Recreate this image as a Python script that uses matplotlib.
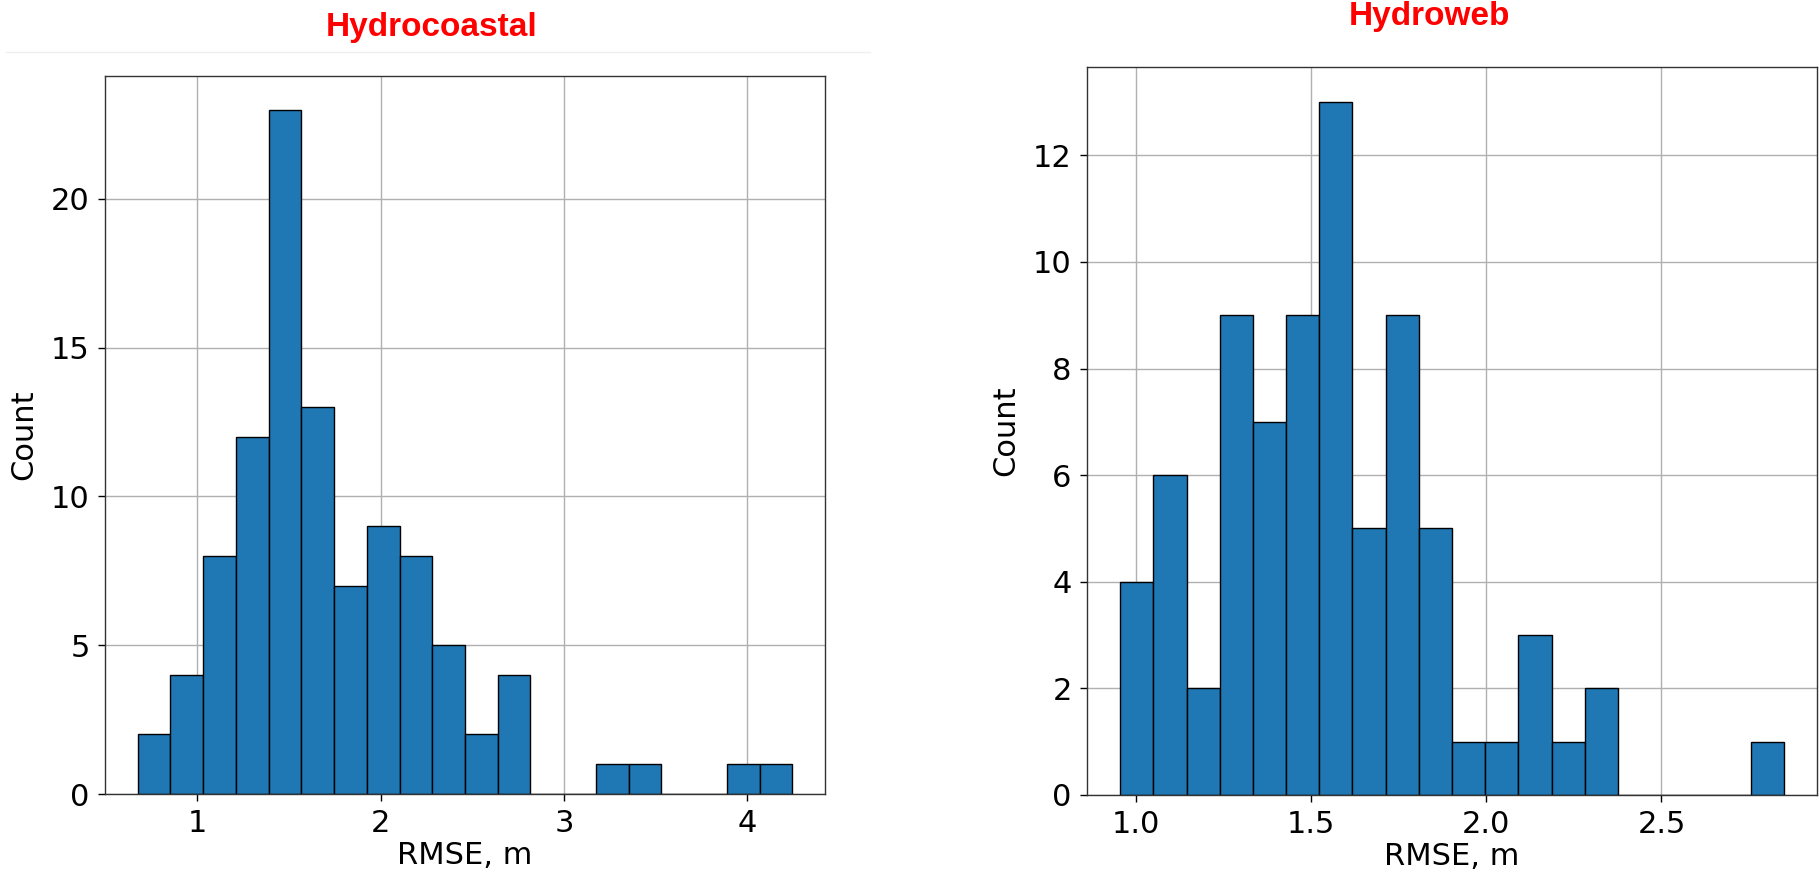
import numpy as np
import matplotlib
matplotlib.use("Agg")
import matplotlib.pyplot as plt
from matplotlib.lines import Line2D

# ---- data ----
hc_range = (0.676, 4.245)
hc_counts = [2, 4, 8, 12, 23, 13, 7, 9, 8, 5, 2, 4, 0, 0, 1, 1, 0, 0, 1, 1]
hw_range = (0.956, 2.849)
hw_counts = [4, 6, 2, 9, 7, 9, 13, 5, 9, 5, 1, 1, 3, 1, 2, 0, 0, 0, 0, 1]
titles = ["Hydrocoastal", "Hydroweb"]
xlabel = "RMSE, m"
ylabel = "Count"

W, H = 1819, 876
fig = plt.figure(figsize=(W / 100, H / 100), dpi=100)

def ax_rect(x0, x1, ytop, ybot):
    return [x0 / W, 1 - ybot / H, (x1 - x0) / W, (ybot - ytop) / H]

ax1 = fig.add_axes(ax_rect(105, 825, 75.5, 794))
ax2 = fig.add_axes(ax_rect(1087, 1817, 67.3, 795))

FS = 22
for ax, rng, counts in [(ax1, hc_range, hc_counts), (ax2, hw_range, hw_counts)]:
    edges = np.linspace(rng[0], rng[1], len(counts) + 1)
    centers = 0.5 * (edges[:-1] + edges[1:])
    ax.hist(centers, bins=edges, weights=counts, color="#1f77b4",
            edgecolor="black", linewidth=1.0, zorder=2)
    ax.set_axisbelow(True)
    ax.grid(True, color="#b0b0b0", linewidth=1.0)
    ax.tick_params(labelsize=FS, pad=6, length=5, width=1)
    ax.set_xlabel(xlabel, fontsize=FS, labelpad=2)
    ax.set_ylabel(ylabel, fontsize=FS, labelpad=9)
    for s in ax.spines.values():
        s.set_linewidth(1.0)
        s.set_color("#333333")

ax1.set_yticks([0, 5, 10, 15, 20])
ax1.set_xticks([1, 2, 3, 4])
ax2.set_yticks([0, 2, 4, 6, 8, 10, 12])
ax2.set_xticks([1.0, 1.5, 2.0, 2.5])
ax2.set_xticklabels(["1.0", "1.5", "2.0", "2.5"])

tfont = dict(family="Liberation Sans", weight="bold", color="#ff0000", fontsize=24)
fig.text(432 / W, 1 - 36 / H, titles[0], ha="center", va="baseline", **tfont)
fig.text(1429 / W, 1 - 25 / H, titles[1], ha="center", va="baseline", **tfont)

# faint separator line under the left title
fig.add_artist(Line2D([6 / W, 870 / W], [1 - 52 / H, 1 - 52 / H],
                      transform=fig.transFigure, color="#efefef", linewidth=1))

fig.savefig("out.png", dpi=100)
